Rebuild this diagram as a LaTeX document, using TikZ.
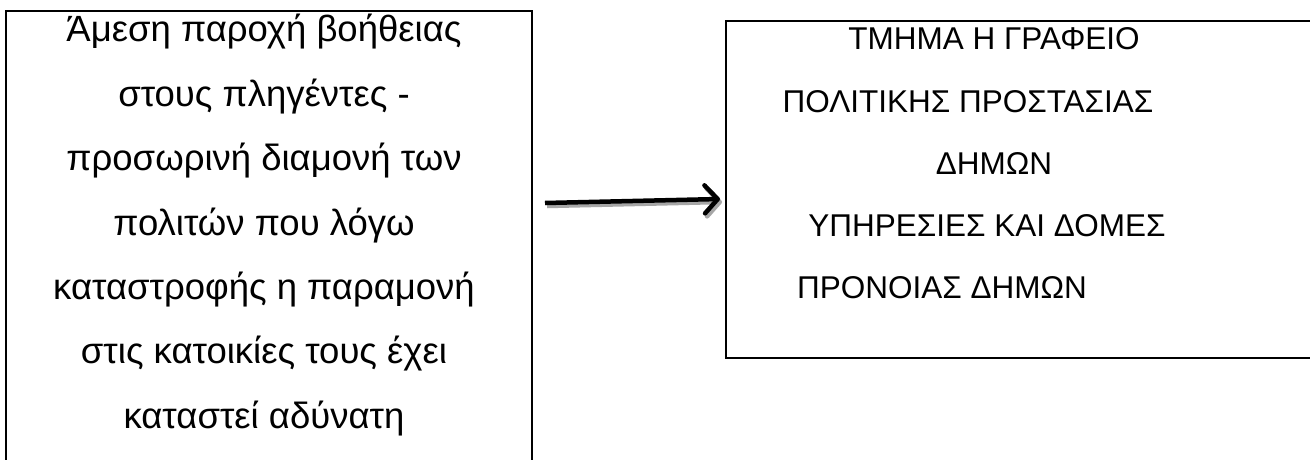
\documentclass[tikz,border=0pt]{standalone}
\usepackage{fontspec}
\setmainfont{Liberation Sans}
\usetikzlibrary{arrows.meta}
\begin{document}
\begin{tikzpicture}[x=1pt,y=1pt,
  boxst/.style={draw=black,line width=2.2pt,rectangle,inner sep=0pt},
  ltxt/.style={font=\fontsize{36.5}{36.5}\selectfont,inner sep=0pt,anchor=base},
  rtxt/.style={font=\fontsize{31.5}{31.5}\selectfont,inner sep=0pt,anchor=base},
  arr/.style={line width=4.5pt,-{Straight Barb[length=13pt,width=28pt,round]}}]
\useasboundingbox (0,0) rectangle (1310,459);
\clip (0,0) rectangle (1310,459);
\path[fill=white] (0,0) rectangle (1310,459);
% boxes
\node[boxst,minimum width=526pt,minimum height=480pt,anchor=north west] (lbox) at (5,449) {};
\node[boxst,minimum width=700pt,minimum height=337pt,anchor=north west] (rbox) at (725,439) {};
% left text
\node[ltxt] (l1) at (264,459-42) {Άμεση παροχή βοήθειας};
\node[ltxt] (l2) at (264,459-106.3) {στους πληγέντες -};
\node[ltxt] (l3) at (264,459-170.7) {προσωρινή διαμονή των};
\node[ltxt] (l4) at (264,459-235) {πολιτών που λόγω};
\node[ltxt] (l5) at (264,459-299.3) {καταστροφής η παραμονή};
\node[ltxt] (l6) at (264,459-363.7) {στις κατοικίες τους έχει};
\node[ltxt] (l7) at (264,459-428) {καταστεί αδύνατη};
% right text
\node[rtxt] (r1) at (994,459-50) {ΤΜΗΜΑ Η ΓΡΑΦΕΙΟ};
\node[rtxt] (r2) at (968,459-112) {ΠΟΛΙΤΙΚΗΣ ΠΡΟΣΤΑΣΙΑΣ};
\node[rtxt] (r3) at (994,459-174) {ΔΗΜΩΝ};
\node[rtxt] (r4) at (987,459-236) {ΥΠΗΡΕΣΙΕΣ ΚΑΙ ΔΟΜΕΣ};
\node[rtxt] (r5) at (942,459-298) {ΠΡΟΝΟΙΑΣ ΔΗΜΩΝ};
% arrow
\coordinate (as) at (545,459-203);
\coordinate (ae) at (720,459-199);
\draw[arr,draw=black!35] ([shift={(2,-3)}]as) -- ([shift={(2,-3)}]ae);
\draw[arr] (as) -- (ae);
\end{tikzpicture}
\end{document}
